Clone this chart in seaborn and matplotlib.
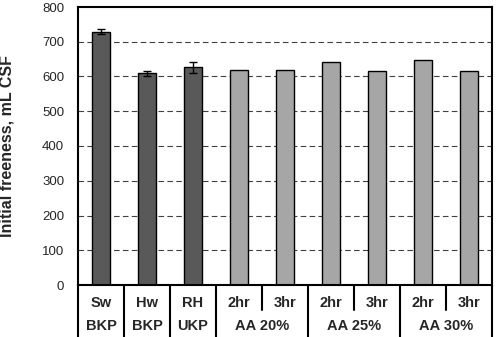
import matplotlib
matplotlib.use("Agg")
import matplotlib.pyplot as plt
import matplotlib.transforms as mtransforms
import seaborn as sns
import pandas as pd
import numpy as np

top_labels = ["Sw", "Hw", "RH", "2hr", "3hr", "2hr", "3hr", "2hr", "3hr"]
bottom_labels = ["BKP", "BKP", "UKP", "AA 20%", "AA 20%", "AA 25%", "AA 25%", "AA 30%", "AA 30%"]
values = [729, 609, 626, 618, 618, 641, 615, 647, 615]
errors = [7, 8, 16, 0, 0, 0, 0, 0, 0]
kind = ["ref", "ref", "ref", "aa", "aa", "aa", "aa", "aa", "aa"]
group_labels = ["BKP", "BKP", "UKP", "AA 20%", "AA 25%", "AA 30%"]
group_spans = [(0, 0), (1, 1), (2, 2), (3, 4), (5, 6), (7, 8)]
y_ticks = [0, 100, 200, 300, 400, 500, 600, 700, 800]

sns.set_style("white")
plt.rcParams['font.family'] = ['Liberation Sans', 'DejaVu Sans']

keys = [f"{t}|{b}" for t, b in zip(top_labels, bottom_labels)]
df = pd.DataFrame({"key": keys, "value": values, "kind": kind})

fig = plt.figure(figsize=(4.96, 3.37), dpi=100)
ax = fig.add_axes([78/496, 52/337, 414/496, 278/337])

sns.barplot(data=df, x="key", y="value", hue="kind", order=keys,
            palette={"ref": "#595959", "aa": "#A6A6A6"}, width=0.4,
            edgecolor="black", linewidth=1.0, dodge=False, legend=False, ax=ax)

xpos = np.arange(len(values))
err_idx = [i for i, e in enumerate(errors) if e > 0]
ax.errorbar(xpos[err_idx], np.array(values)[err_idx], yerr=np.array(errors)[err_idx],
            fmt="none", ecolor="black", elinewidth=1.0, capsize=3, capthick=1.0, zorder=5)

ax.set_xlim(-0.5, len(values) - 0.5)
ax.set_ylim(0, 800)
ax.set_yticks(y_ticks)
ax.set_yticklabels([str(v) for v in y_ticks], fontsize=9.5)
ax.tick_params(axis="y", direction="out", length=4, width=1, color="black", pad=6)
ax.tick_params(axis="x", length=0)
ax.set_xticklabels([])
ax.set_xlabel("")
ax.set_ylabel("Initial freeness, mL CSF", fontsize=11.5, fontweight="bold")
ax.yaxis.set_label_coords(-0.154, 0.5)

for v in y_ticks[1:-1]:
    ax.axhline(v, color="#404040", linestyle=(0, (5, 3)), linewidth=0.8, zorder=0)

for s in ax.spines.values():
    s.set_visible(True)
    s.set_color("black")
    s.set_linewidth(1.5)

trans = mtransforms.blended_transform_factory(ax.transData, ax.transAxes)
for i, t in enumerate(top_labels):
    ax.text(i, -0.064, t, transform=trans, ha="center", va="center",
            fontsize=10.5, fontweight="bold", clip_on=False)
for g, (a, b) in zip(group_labels, group_spans):
    ax.text((a + b) / 2, -0.147, g, transform=trans, ha="center", va="center",
            fontsize=10.5, fontweight="bold", clip_on=False)

# separators
full_seps = [-0.5] + [b + 0.5 for (a, b) in group_spans]
half_seps = [a + 0.5 for (a, b) in group_spans if b > a]
for x in full_seps:
    ax.plot([x, x], [0, -0.19], transform=trans, color="black", linewidth=1.5, clip_on=False)
for x in half_seps:
    ax.plot([x, x], [0, -0.09], transform=trans, color="black", linewidth=1.5, clip_on=False)

fig.savefig("out.png", dpi=100)
